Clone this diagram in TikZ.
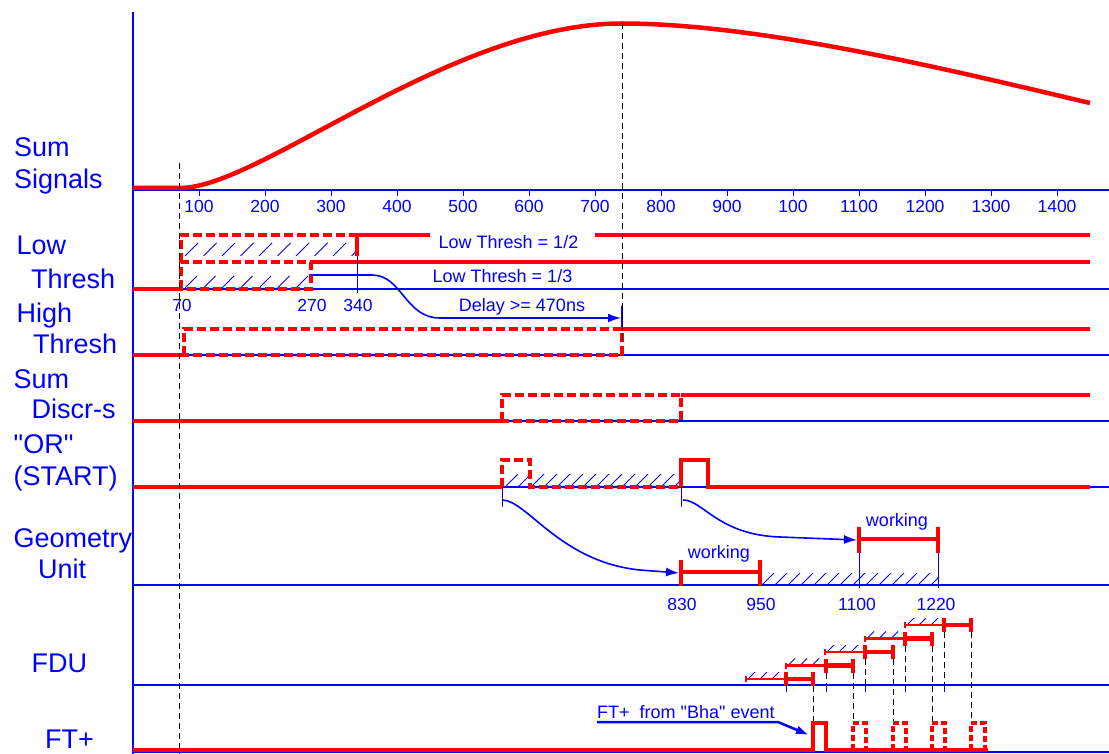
\documentclass[tikz,border=0pt]{standalone}
\usepackage{fontspec}
\setmainfont{Liberation Sans}
\usetikzlibrary{arrows.meta}
\definecolor{sigred}{RGB}{255,0,0}
\definecolor{axblue}{RGB}{0,0,255}
\tikzset{
 axisline/.style={draw=axblue, line width=2pt},
 sigline/.style={draw=sigred, line width=4.5pt, line join=miter},
 sigdashed/.style={sigline, dash pattern=on 9pt off 4pt},
 pulsedashed/.style={draw=sigred, line width=4pt, dash pattern=on 6pt off 3pt},
 sigthin/.style={draw=sigred, line width=2.5pt},
 capline/.style={draw=sigred, line width=4pt},
 bluecurve/.style={draw=axblue, line width=1.6pt},
 hatchline/.style={draw=axblue, line width=0.8pt},
 guide/.style={draw=black, line width=0.8pt, dash pattern=on 6pt off 4pt},
 marker/.style={draw=axblue, line width=1pt},
 lanelabel/.style={text=axblue, font=\fontsize{27}{30}\selectfont, anchor=base west, inner sep=0pt},
 ticklabel/.style={text=axblue, font=\fontsize{17.5}{20}\selectfont, anchor=base, inner sep=0pt},
 note/.style={text=axblue, font=\fontsize{18}{21}\selectfont, anchor=base, inner sep=0pt},
 tip/.style={-{Latex[length=13pt,width=9pt]}},
}
% hatch band: x1, x2, ybottom, height, spacing
\newcommand\hatchrun[5]{%
 \begin{scope}
 \clip (#1,#3) rectangle (#2,{#3-#4});
 \foreach \hi in {0,...,20} \draw[hatchline] ({#1+\hi*#5},#3) -- ++(#4,-#4);
 \end{scope}}
\begin{document}
\begin{tikzpicture}[x=1pt,y=-1pt]
\useasboundingbox (0,0) rectangle (1109,754);

% ---------- axes and lane baselines ----------
\draw[axisline] (133,12) -- (133,754);
\draw[axisline] (133,190) -- (1109,190);
\foreach \t/\l in {100/100,200/200,300/300,400/400,500/500,600/600,700/700,800/800,900/900,1000/100,1100/1100,1200/1200,1300/1300,1400/1400}{
  \draw[axisline,line width=1pt] ({133+0.66*\t},190) -- ++(0,6);
  \node[ticklabel] (t\t) at ({133+0.66*\t},213) {\l};
}
\draw[axisline] (133,289) -- (1109,289);
\draw[axisline] (133,355) -- (1109,355);
\draw[axisline] (133,421) -- (1109,421);
\draw[axisline] (133,487) -- (1109,487);
\draw[axisline] (133,585) -- (1109,585);
\draw[axisline] (133,685) -- (1109,685);
\draw[axisline] (133,752) -- (1109,752);

% ---------- lane labels ----------
\node[lanelabel] (sum1) at (14,157) {Sum};
\node[lanelabel] (sum2) at (14,189) {Signals};
\node[lanelabel] (low1) at (16.5,255) {Low};
\node[lanelabel] (low2) at (31,288) {Thresh};
\node[lanelabel] (high1) at (16.5,322) {High};
\node[lanelabel] (high2) at (33,353) {Thresh};
\node[lanelabel] (disc1) at (13.5,388) {Sum};
\node[lanelabel] (disc2) at (31.5,418) {Discr-s};
\node[lanelabel] (or1) at (13.5,453) {\textquotedbl OR\textquotedbl};
\node[lanelabel] (or2) at (13.5,485) {(START)};
\node[lanelabel] (geo1) at (13.5,547) {Geometry};
\node[lanelabel] (geo2) at (38,578) {Unit};
\node[lanelabel] (fdu) at (31.5,672) {FDU};
\node[lanelabel] (ftp) at (45,748) {FT+};

% ---------- Sum signal ----------
\coordinate (sstart) at (133,188);
\coordinate (speak) at (622,23.5);
\coordinate (send) at (1090,103);
\draw[sigline, line join=round] (sstart) -- (180,188) .. controls (260,188) and (450,23.5) .. (speak) .. controls (760,23.5) and (950,70) .. (send);

% ---------- Low Thresh ----------
\hatchrun{185}{355}{256}{13}{18.5}
\hatchrun{185}{309}{288}{12}{18.5}
\draw[sigline] (133,289) -- (181,289);
\draw[sigdashed] (181,262) -- (181,235) -- (357,235);
\draw[sigdashed] (181,289) rectangle (311,262);
\draw[sigline] (357,256) -- (357,235) -- (430,235);
\draw[sigline] (595,235) -- (1090,235);
\draw[sigline] (311,262) -- (1090,262);
\draw[marker] (357,256) -- (357,293);
\node[note] (lt12) at (508.5,249) {Low Thresh = 1/2};
\node[note] (lt13) at (502.5,283) {Low Thresh = 1/3};
\node[ticklabel] (n70) at (182,312) {70};
\node[ticklabel] (n270) at (312,312) {270};
\node[ticklabel] (n340) at (358,312) {340};
\node[note] (delay) at (522,312) {Delay >= 470ns};
\coordinate (dstart) at (311,275);
\coordinate (dend) at (621,318);
\draw[bluecurve, tip] (dstart) -- (372,275) .. controls (402,275) and (405,318) .. (440,318) -- (dend);
\draw[axisline,line width=1.5pt] (622,306) -- (622,329);

% ---------- High Thresh ----------
\draw[sigline] (133,355) -- (184,355);
\draw[sigdashed] (184,355) rectangle (622,329);
\draw[sigline] (622,329) -- (1090,329);

% ---------- Sum Discr-s ----------
\draw[sigline] (133,421) -- (502,421);
\draw[sigdashed] (502,421) rectangle (681,395);
\draw[sigline] (681,395) -- (1090,395);

% ---------- OR (START) ----------
\hatchrun{505}{681}{487}{13}{13}
\draw[sigline] (133,487) -- (502,487);
\draw[sigdashed] (502,487) -- (502,460) -- (530,460) -- (530,487) -- (681,487);
\draw[sigline] (681,487) -- (681,460) -- (708,460) -- (708,487) -- (1090,487);
\draw[marker] (502,487) -- (502,507);
\draw[marker] (681,487) -- (681,507);

% ---------- Geometry Unit ----------
\hatchrun{762}{938}{585}{12}{13}
\draw[sigline] (681,572) -- (760,572);
\draw[capline] (681,560) -- (681,586);
\draw[capline] (760,560) -- (760,586);
\draw[sigline] (859,539) -- (938,539);
\draw[capline] (859,527) -- (859,553);
\draw[capline] (938,527) -- (938,553);
\draw[marker] (859,553) -- (859,588);
\draw[marker] (938,553) -- (938,588);
\node[note] (work1) at (719,558) {working};
\node[note] (work2) at (897,526) {working};
\node[ticklabel] (n830) at (682,610) {830};
\node[ticklabel] (n950) at (761,610) {950};
\node[ticklabel] (n1100) at (857,610) {1100};
\node[ticklabel] (n1220) at (936,610) {1220};
\coordinate (c1s) at (502,500);
\coordinate (c1e) at (679,573);
\coordinate (c2s) at (683,500);
\coordinate (c2e) at (857,540);
\draw[bluecurve, tip] (c1s) .. controls (527,500) and (560,562) .. (640,570) -- (c1e);
\draw[bluecurve, tip] (c2s) .. controls (703,500) and (718,535) .. (780,537) -- (c2e);

% ---------- FDU ----------
\foreach \xh/\xs/\xe/\yy in {746/786/813/679, 786/826/853/665.5, 825/865/893/652, 865/905/932/638.5, 905/944/971/625}{
  \hatchrun{\xh+2}{\xs}{\yy}{7}{12}
  \draw[sigthin] (\xh,\yy) -- (\xs,\yy);
  \draw[sigthin] (\xh,\yy-3) -- (\xh,\yy+3);
  \draw[sigline] (\xs,\yy) -- (\xe,\yy);
  \draw[capline] (\xs,\yy-7) -- (\xs,\yy+7);
  \draw[capline] (\xe,\yy-7) -- (\xe,\yy+7);
  \draw[marker] (\xs,685) -- (\xs,692);
  \draw[guide] (\xs,\yy+7) -- (\xs,685);
  \draw[guide] (\xe,\yy+7) -- (\xe,722);
}

% ---------- FT+ ----------
\draw[sigline, line width=4pt] (133,750) -- (813,750) -- (813,723) -- (826,723) -- (826,750) -- (988,750);
\foreach \pa/\pb in {853/866, 893/906, 932/945, 971/985}{
  \draw[pulsedashed] (\pa,750) -- (\pa,723) -- (\pb,723) -- (\pb,750);
}
\node[note, anchor=base west] (bha) at (597,718) {FT+\ \ from \textquotedbl Bha\textquotedbl\ event};
\coordinate (bhaL) at (597,722);
\coordinate (bhaT) at (809,735);
\draw[bluecurve, line width=2.5pt, tip] (bhaL) -- (778,722) -- (bhaT);

% ---------- guides ----------
\draw[guide] (179,163) -- (179,754);
\draw[guide] (speak) -- (622,340);
\end{tikzpicture}
\end{document}
